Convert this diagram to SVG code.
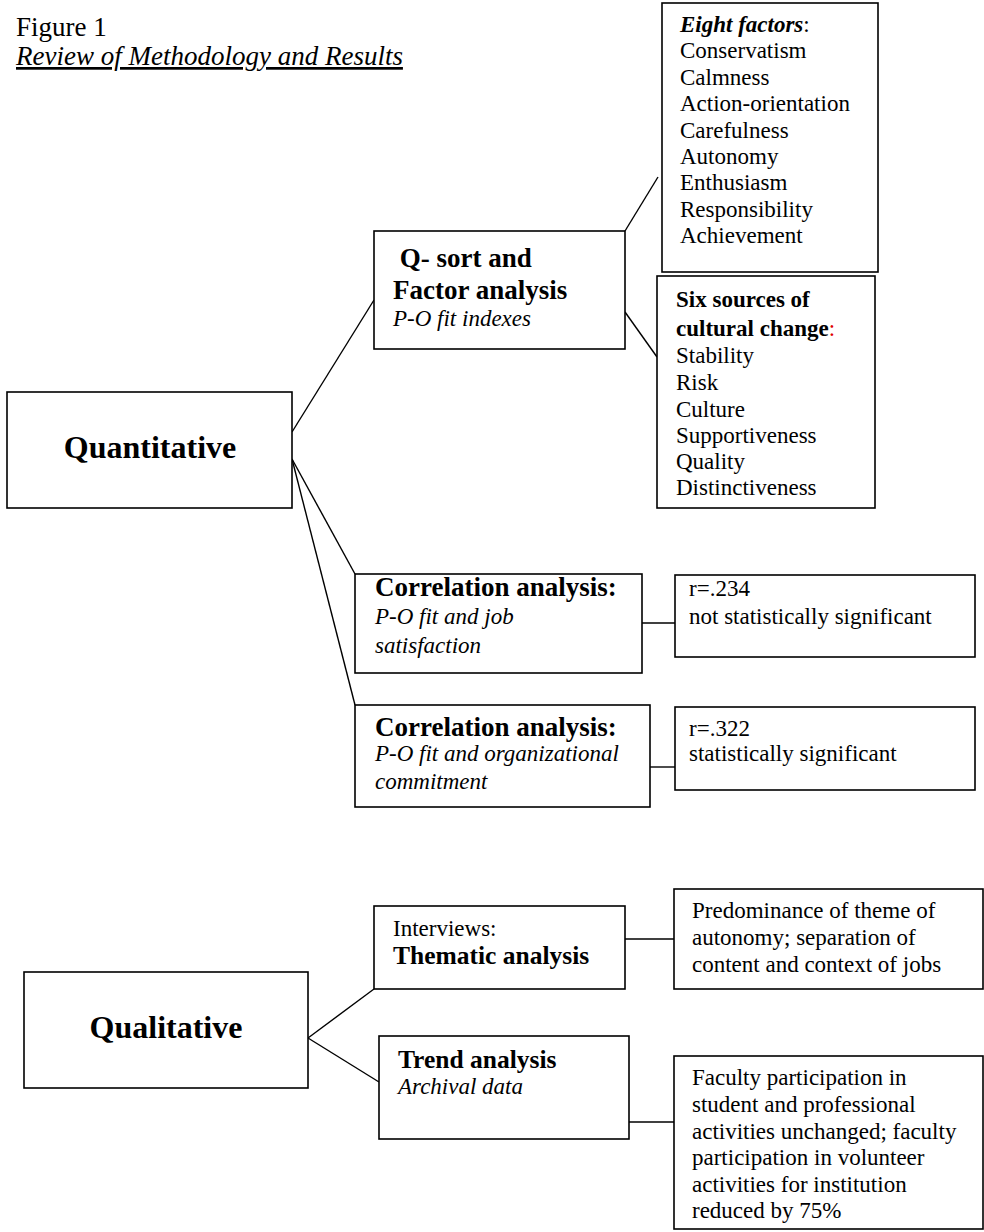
<svg xmlns="http://www.w3.org/2000/svg" width="984" height="1232" viewBox="0 0 984 1232">
<style>
text{font-family:"Liberation Serif","Times New Roman",serif;fill:#000;font-size:23px}
.box{fill:#fff;stroke:#000;stroke-width:1.6}
.ln{stroke:#000;stroke-width:1.4;fill:none}
.b{font-weight:bold}
.h{font-weight:bold;font-size:27px}
.h2{font-weight:bold;font-size:25.5px}
.big{font-weight:bold;font-size:32px}
.i{font-style:italic}
</style>
<rect width="984" height="1232" fill="#fff"/>
<g id="title">
<text x="16" y="36" style="font-size:27px">Figure 1</text>
<text x="16" y="65" class="i" style="font-size:27px;text-decoration:underline">Review of Methodology and Results</text>
</g>
<g id="connectors">
<line class="ln" x1="292" y1="432" x2="374" y2="300"/>
<line class="ln" x1="292" y1="459" x2="355" y2="574"/>
<line class="ln" x1="292" y1="459" x2="355" y2="705"/>
<line class="ln" x1="625" y1="231" x2="658" y2="177"/>
<line class="ln" x1="625" y1="312" x2="657" y2="357"/>
<line class="ln" x1="642" y1="623" x2="675" y2="623"/>
<line class="ln" x1="650" y1="767" x2="675" y2="767"/>
<line class="ln" x1="308" y1="1038" x2="374" y2="989"/>
<line class="ln" x1="308" y1="1038" x2="379" y2="1082"/>
<line class="ln" x1="625" y1="939" x2="674" y2="939"/>
<line class="ln" x1="629" y1="1122" x2="674" y2="1122"/>
</g>
<g id="quantitative">
<rect class="box" x="7" y="392" width="285" height="116"/>
<text x="150" y="458" class="big" text-anchor="middle">Quantitative</text>
</g>
<g id="qsort">
<rect class="box" x="374" y="231" width="251" height="118"/>
<text x="393" y="267" class="h" xml:space="preserve"> Q- sort and</text>
<text x="393" y="299" class="h">Factor analysis</text>
<text x="393" y="326" class="i">P-O fit indexes</text>
</g>
<g id="eight-factors">
<rect class="box" x="662" y="3" width="216" height="269"/>
<text x="680" y="32"><tspan class="b i">Eight factors</tspan>:</text>
<text x="680" y="58">Conservatism</text>
<text x="680" y="85">Calmness</text>
<text x="680" y="111">Action-orientation</text>
<text x="680" y="138">Carefulness</text>
<text x="680" y="164">Autonomy</text>
<text x="680" y="190">Enthusiasm</text>
<text x="680" y="217">Responsibility</text>
<text x="680" y="243">Achievement</text>
</g>
<g id="six-sources">
<rect class="box" x="657" y="276" width="218" height="232"/>
<text x="676" y="307" class="b">Six sources of</text>
<text x="676" y="336"><tspan class="b">cultural change</tspan><tspan fill="#e00000">:</tspan></text>
<text x="676" y="363">Stability</text>
<text x="676" y="390">Risk</text>
<text x="676" y="417">Culture</text>
<text x="676" y="443">Supportiveness</text>
<text x="676" y="469">Quality</text>
<text x="676" y="495">Distinctiveness</text>
</g>
<g id="corr1">
<rect class="box" x="355" y="574" width="287" height="99"/>
<text x="375" y="596" class="h">Correlation analysis:</text>
<text x="375" y="624" class="i">P-O fit and job</text>
<text x="375" y="653" class="i">satisfaction</text>
</g>
<g id="r1">
<rect class="box" x="675" y="575" width="300" height="82"/>
<text x="689" y="596">r=.234</text>
<text x="689" y="624">not statistically significant</text>
</g>
<g id="corr2">
<rect class="box" x="355" y="705" width="295" height="102"/>
<text x="375" y="736" class="h">Correlation analysis:</text>
<text x="375" y="761" class="i">P-O fit and organizational</text>
<text x="375" y="789" class="i">commitment</text>
</g>
<g id="r2">
<rect class="box" x="675" y="707" width="300" height="83"/>
<text x="689" y="736">r=.322</text>
<text x="689" y="761">statistically significant</text>
</g>
<g id="qualitative">
<rect class="box" x="24" y="972" width="284" height="116"/>
<text x="166" y="1038" class="big" text-anchor="middle">Qualitative</text>
</g>
<g id="thematic">
<rect class="box" x="374" y="906" width="251" height="83"/>
<text x="393" y="936">Interviews:</text>
<text x="393" y="964" class="h2">Thematic analysis</text>
</g>
<g id="themes-result">
<rect class="box" x="674" y="889" width="309" height="100"/>
<text x="692" y="918">Predominance of theme of</text>
<text x="692" y="945">autonomy; separation of</text>
<text x="692" y="972">content and context of jobs</text>
</g>
<g id="trend">
<rect class="box" x="379" y="1036" width="250" height="103"/>
<text x="398" y="1068" class="h2">Trend analysis</text>
<text x="398" y="1094" class="i">Archival data</text>
</g>
<g id="trend-result">
<rect class="box" x="674" y="1056" width="309" height="173"/>
<text x="692" y="1085">Faculty participation in</text>
<text x="692" y="1112">student and professional</text>
<text x="692" y="1139">activities unchanged; faculty</text>
<text x="692" y="1165">participation in volunteer</text>
<text x="692" y="1192">activities for institution</text>
<text x="692" y="1218">reduced by 75%</text>
</g>
</svg>
